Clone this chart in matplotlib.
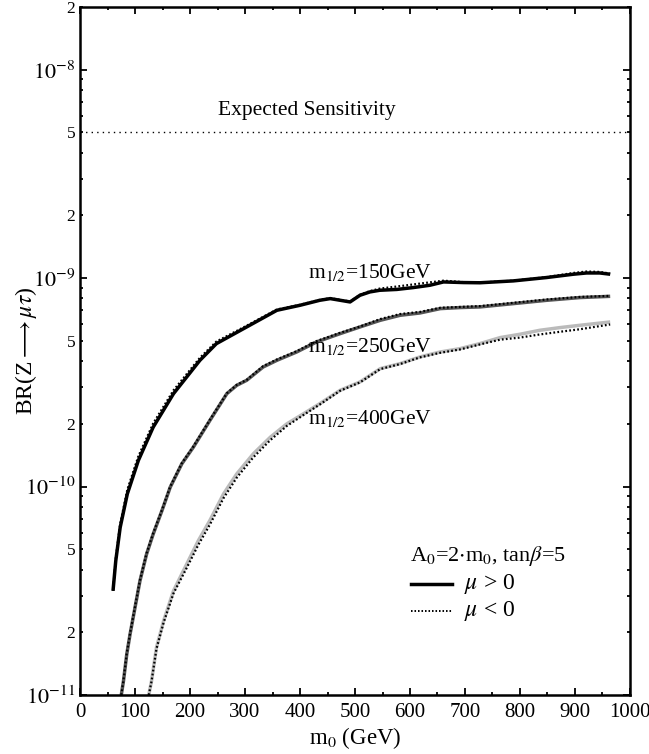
import numpy as np
import matplotlib
matplotlib.use("Agg")
import matplotlib.pyplot as plt
from matplotlib.ticker import LogLocator, FixedLocator, FuncFormatter, MultipleLocator
from matplotlib.transforms import ScaledTranslation

plt.rcParams['font.family'] = ['Liberation Serif', 'DejaVu Serif']
plt.rcParams['mathtext.fontset'] = 'stix'

# values are log10(BR)

# m1/2 = 150 GeV
m0_150 = [60, 65, 73, 86, 106, 133, 170, 218, 248, 303, 358, 400, 436, 455, 473, 491, 509, 527,
          545, 576, 606, 636, 661, 697, 727, 788, 848, 897, 921, 945, 964]
lg_150_pos = [-10.50, -10.356, -10.196, -10.035, -9.875, -9.715, -9.554, -9.394, -9.314, -9.234,
              -9.154, -9.130, -9.106, -9.098, -9.106, -9.114, -9.082, -9.066, -9.058, -9.054,
              -9.045, -9.034, -9.018, -9.021, -9.022, -9.013, -8.997, -8.981, -8.975, -8.975, -8.981]
lg_150_neg = [-10.50, -10.345, -10.180, -10.015, -9.855, -9.697, -9.538, -9.382, -9.304, -9.228,
              -9.150, -9.128, -9.104, -9.096, -9.104, -9.112, -9.080, -9.062, -9.050, -9.040,
              -9.030, -9.020, -9.012, -9.019, -9.021, -9.012, -8.995, -8.975, -8.968, -8.970, -8.978]

# m1/2 = 250 GeV
m0_250 = [75, 79, 85, 91, 100, 109, 121, 133, 149, 164, 185, 206, 236, 267, 285, 303, 333, 358,
          394, 430, 473, 509, 546, 582, 618, 655, 691, 727, 788, 849, 909, 964]
lg_250_pos = [-11.0, -10.933, -10.804, -10.708, -10.580, -10.452, -10.324, -10.228, -10.115, -10.003,
              -9.891, -9.811, -9.683, -9.554, -9.514, -9.490, -9.426, -9.394, -9.354, -9.306,
              -9.266, -9.234, -9.202, -9.178, -9.167, -9.146, -9.141, -9.138, -9.122, -9.106,
              -9.093, -9.087]
lg_250_neg = [-11.0, -10.930, -10.800, -10.704, -10.576, -10.448, -10.320, -10.224, -10.112, -10.000,
              -9.888, -9.808, -9.680, -9.552, -9.512, -9.488, -9.422, -9.390, -9.350, -9.302,
              -9.262, -9.232, -9.196, -9.172, -9.162, -9.142, -9.138, -9.134, -9.118, -9.102,
              -9.090, -9.085]

# m1/2 = 400 GeV
m0_400 = [125, 130, 139, 152, 170, 194, 215, 236, 261, 285, 315, 346, 376, 406, 436, 473, 509, 546,
          582, 618, 655, 691, 727, 764, 800, 836, 873, 909, 964]
lg_400_pos = [-11.0, -10.933, -10.772, -10.644, -10.50, -10.372, -10.260, -10.163, -10.035, -9.939,
              -9.843, -9.763, -9.699, -9.651, -9.602, -9.538, -9.498, -9.434, -9.410, -9.378,
              -9.354, -9.338, -9.314, -9.285, -9.269, -9.250, -9.237, -9.226, -9.210]
lg_400_neg = [-11.0, -10.935, -10.778, -10.652, -10.512, -10.390, -10.280, -10.183, -10.055, -9.957,
              -9.860, -9.777, -9.709, -9.657, -9.606, -9.540, -9.500, -9.436, -9.412, -9.380,
              -9.358, -9.342, -9.318, -9.295, -9.285, -9.270, -9.257, -9.245, -9.222]

sensitivity = 5e-9

fig = plt.figure(figsize=(6.49, 7.54), dpi=100)
ax = fig.add_axes([0.1233, 0.0782, 0.8474, 0.9125])

dot = (0, (0.8, 1.0))
curves = [
    (m0_150, lg_150_pos, lg_150_neg, "black"),
    (m0_250, lg_250_pos, lg_250_neg, "#555555"),
    (m0_400, lg_400_pos, lg_400_neg, "#bbbbbb"),
]
for m0, pos, neg, col in curves:
    ax.plot(m0, 10 ** np.array(pos), color=col, lw=2.5, solid_capstyle="butt",
            solid_joinstyle="round")
    ax.plot(m0, 10 ** np.array(neg), color="black", lw=1.6, linestyle=dot)

ax.axhline(sensitivity, color="black", lw=1.0, linestyle=(0, (1, 3)))
ax.text(251, 6.4e-9, "Expected Sensitivity", fontsize=15.5, va="center", ha="left")

ax.text(415, 1.07e-9, r"m$_{1/2}$=150GeV", fontsize=15.5, va="center")
ax.text(415, 4.7e-10, r"m$_{1/2}$=250GeV", fontsize=15.5, va="center")
ax.text(415, 2.12e-10, r"m$_{1/2}$=400GeV", fontsize=15.5, va="center")

# legend drawn by hand
ax.text(600, 4.66e-11, r"A$_0$=2$\cdot$m$_0$, tan$\beta$=5", fontsize=16, va="center")
ax.plot([602, 676], [3.42e-11, 3.42e-11], color="black", lw=2.5)
ax.plot([602, 676], [2.54e-11, 2.54e-11], color="black", lw=1.4, linestyle=dot)
ax.text(698, 3.42e-11, r"$\mu$ > 0", fontsize=17, va="center")
ax.text(698, 2.54e-11, r"$\mu$ < 0", fontsize=17, va="center")

ax.set_yscale("log")
ax.set_xlim(0, 1000)
ax.set_ylim(1e-11, 2e-8)

ax.xaxis.set_major_locator(MultipleLocator(100))
ax.xaxis.set_minor_locator(MultipleLocator(50))
ax.yaxis.set_major_locator(FixedLocator([1e-11, 1e-10, 1e-9, 1e-8]))
ax.yaxis.set_minor_locator(LogLocator(base=10, subs=np.arange(2, 10)))


def major_fmt(v, pos):
    return r"$10^{%d}$" % int(round(np.log10(v)))


def minor_fmt(v, pos):
    m = v / 10 ** np.floor(np.log10(v) + 1e-9)
    if abs(m - 2) < 0.01:
        return "2"
    if abs(m - 5) < 0.01:
        return "5"
    return ""


ax.yaxis.set_major_formatter(FuncFormatter(major_fmt))
ax.yaxis.set_minor_formatter(FuncFormatter(minor_fmt))

ax.tick_params(which="both", direction="in", top=True, right=True, width=1.3)
ax.tick_params(which="major", length=5, labelsize=16)
ax.tick_params(which="minor", length=2.5, labelsize=12.5)
ax.tick_params(axis="x", which="major", labelsize=15, pad=6)
for s in ax.spines.values():
    s.set_linewidth(1.8)

ax.set_xlabel(r"m$_0$ (GeV)", fontsize=16.5)
ax.set_ylabel(r"BR(Z$\longrightarrow\mu\tau$)", fontsize=17)
ax.xaxis.set_label_coords(0.5, -0.044)
ax.yaxis.set_label_coords(-0.075, 0.5)

# keep the last x label inside the canvas
fig.canvas.draw()
last = ax.get_xticklabels()[-1]
last.set_transform(last.get_transform() + ScaledTranslation(-4 / 100, 0, fig.dpi_scale_trans))

fig.savefig("out.png", dpi=100)
